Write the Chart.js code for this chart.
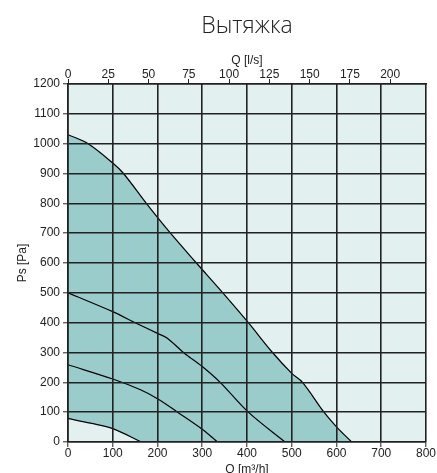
<!DOCTYPE html>
<html>
<head>
<meta charset="utf-8">
<script src="https://cdn.jsdelivr.net/npm/chart.js@4.4.1/dist/chart.umd.min.js"></script>
<style>
  body { margin: 0; background: #fff; }
</style>
</head>
<body>
<canvas id="fan-chart" width="437" height="473"></canvas>
<script>
// fan curves, Q in m3/h, Ps in Pa
const maxQ = [0, 45, 100, 124, 175, 229, 287, 346, 403, 457, 500, 524, 572, 600, 634];
const maxP = [1030, 1000, 935, 900, 800, 700, 600, 500, 400, 300, 230, 200, 100, 51, 0];

const midQ = [0, 100, 150, 200, 222, 258, 300, 340, 403, 485];
const midP = [500, 437, 400, 364, 348, 300, 253, 200, 100, 0];

const lowQ = [0, 100, 162, 200, 245, 300, 334];
const lowP = [259, 211, 175, 145, 100, 43, 0];

const minQ = [0, 50, 100, 164];
const minP = [79, 63, 45, 0];

const qMax = 800;          // m3/h
const psMax = 1200;        // Pa
const lsPerM3h = 1 / 3.6;  // top axis in l/s

const ink = '#222';
const plotBg = '#e2f0ef';
const workFill = '#99cccb';
const sans = "'Liberation Sans', Arial, sans-serif";

function pts(xs, ys) {
    return xs.map((x, i) => ({ x: x, y: ys[i] }));
}

const plotBackground = {
    id: 'plotBackground',
    beforeDraw(chart) {
        const { ctx, chartArea: a } = chart;
        ctx.save();
        ctx.fillStyle = plotBg;
        ctx.fillRect(a.left, a.top, a.right - a.left, a.bottom - a.top);
        ctx.restore();
    }
};

const curve = {
    borderColor: '#000',
    borderWidth: 1.2,
    pointRadius: 0,
    tension: 0.35
};

new Chart(document.getElementById('fan-chart'), {
    type: 'line',
    data: {
        datasets: [
            Object.assign({ data: pts(minQ, minP), fill: 'origin', backgroundColor: plotBg }, curve),
            Object.assign({ data: pts(lowQ, lowP), fill: false }, curve),
            Object.assign({ data: pts(midQ, midP), fill: false }, curve),
            Object.assign({ data: pts(maxQ, maxP), fill: 'origin', backgroundColor: workFill }, curve)
        ]
    },
    options: {
        responsive: false,
        animation: false,
        layout: { padding: { left: 0, right: 11, top: 0, bottom: 0 } },
        plugins: {
            legend: { display: false },
            tooltip: { enabled: false },
            title: {
                display: true,
                text: 'Вытяжка',
                fullSize: false,
                color: ink,
                font: { family: "'Open Sans', sans-serif", size: 23, weight: 300 },
                padding: { top: 13, bottom: 0 }
            }
        },
        scales: {
            x: {
                type: 'linear',
                position: 'bottom',
                min: 0,
                max: qMax,
                ticks: { stepSize: 100, color: ink, padding: -1, maxRotation: 0,
                         font: { family: sans, size: 12 } },
                grid: { color: ink, lineWidth: 1.6, tickColor: ink, tickWidth: 1, tickLength: 5, z: 1 },
                border: { color: ink, width: 1.6, z: 1 },
                title: { display: true, text: 'Q [m³/h]', color: ink, padding: { top: 0, bottom: -4 },
                         font: { family: sans, size: 12 } },
                afterFit(scale) { scale.height = 31; }
            },
            x2: {
                type: 'linear',
                position: 'top',
                min: 0,
                max: qMax * lsPerM3h,
                ticks: { stepSize: 25, includeBounds: false, color: ink, padding: -3, maxRotation: 0,
                         font: { family: sans, size: 12 } },
                grid: { drawOnChartArea: false, tickColor: ink, tickWidth: 1, tickLength: 5 },
                border: { color: ink, width: 1.6, z: 1 },
                title: { display: true, text: 'Q [l/s]', color: ink, padding: { top: 13, bottom: 0 },
                         font: { family: sans, size: 12 } },
                afterFit(scale) { scale.height = 43.4; }
            },
            y: {
                type: 'linear',
                min: 0,
                max: psMax,
                ticks: { stepSize: 100, color: ink, padding: 3,
                         font: { family: sans, size: 12 },
                         callback: (v) => String(v) },
                grid: { color: ink, lineWidth: 1.6, tickColor: ink, tickWidth: 1, tickLength: 5, z: 1 },
                border: { color: ink, width: 1.6, z: 1 },
                title: { display: true, text: 'Ps [Pa]', color: ink, padding: { top: 15, bottom: 0 },
                         font: { family: sans, size: 12 } },
                afterFit(scale) { scale.width = 68; }
            }
        }
    },
    plugins: [plotBackground]
});
</script>
</body>
</html>
